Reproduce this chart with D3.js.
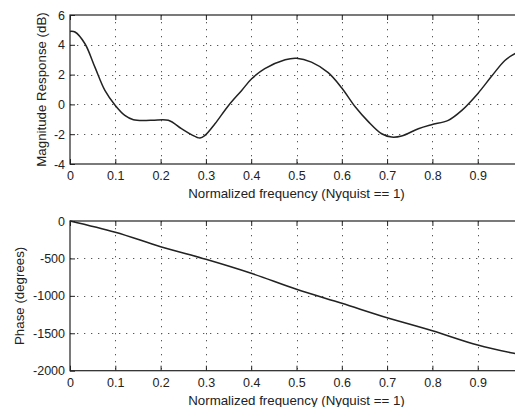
<!DOCTYPE html>
<html><head><meta charset="utf-8">
<script src="https://cdn.jsdelivr.net/npm/d3@7"></script>
<style>
body{margin:0;background:#fff;}
text{font-family:"Liberation Sans",Arial,Helvetica,sans-serif;fill:#222;}
</style>
</head><body>
<svg id="c" width="515" height="407"></svg>
<script>
// ---- data ----
const freqTicks = [0, 0.1, 0.2, 0.3, 0.4, 0.5, 0.6, 0.7, 0.8, 0.9, 1];
const freqTickLabels = ["0", "0.1", "0.2", "0.3", "0.4", "0.5", "0.6", "0.7", "0.8", "0.9", ""];
const magTicks = [-4, -2, 0, 2, 4, 6];
const phaseTicks = [-2000, -1500, -1000, -500, 0];

const magFreq = [0, 0.011, 0.033, 0.055, 0.077, 0.1, 0.121, 0.14, 0.18, 0.217, 0.246, 0.268, 0.287, 0.298, 0.32, 0.35, 0.379, 0.401, 0.43, 0.475, 0.5, 0.533, 0.57, 0.6, 0.63, 0.658, 0.688, 0.71, 0.732, 0.769, 0.798, 0.835, 0.865, 0.9, 0.931, 0.96, 0.982, 1.0];
const magDb = [4.9, 4.86, 4.07, 2.5, 0.94, -0.07, -0.74, -1.03, -1.07, -1.07, -1.63, -2.03, -2.26, -2.08, -1.3, -0.07, 0.94, 1.72, 2.4, 3.0, 3.1, 2.84, 2.13, 1.1, -0.18, -1.14, -1.97, -2.19, -2.12, -1.63, -1.36, -1.07, -0.4, 0.72, 1.9, 2.95, 3.4, 3.6];

const phaseFreq = [0, 0.1, 0.2, 0.3, 0.4, 0.5, 0.6, 0.7, 0.8, 0.9, 0.98, 1.0];
const phaseDeg = [0, -151, -343, -512, -699, -913, -1100, -1292, -1466, -1657, -1768, -1790];

const xLabel = "Normalized frequency (Nyquist == 1)";
const magLabel = "Magnitude Response (dB)";
const phaseLabel = "Phase (degrees)";

// ---- drawing ----
const svg = d3.select("#c");
svg.append("rect").attr("width", 515).attr("height", 407).attr("fill", "#fff");

const x = d3.scaleLinear().domain([0, 1]).range([70, 523]);

function panel(cfg) {
  const y = d3.scaleLinear().domain(cfg.yDomain).range(cfg.yRange);
  const g = svg.append("g");
  const top = cfg.yRange[1], bottom = cfg.yRange[0];

  // grid
  const grid = g.append("g").attr("stroke", "#555").attr("stroke-width", 1)
    .attr("stroke-dasharray", "1.3,5.7").attr("fill", "none");
  grid.selectAll("line.v").data(freqTicks.filter(t => t > 0 && t < 1)).join("line")
    .attr("x1", d => Math.round(x(d)) + 0.5).attr("x2", d => Math.round(x(d)) + 0.5)
    .attr("y1", top).attr("y2", bottom);
  grid.selectAll("line.h").data(cfg.yTicks.filter(t => t > cfg.yDomain[0] && t < cfg.yDomain[1])).join("line")
    .attr("y1", d => Math.round(y(d)) + 0.5).attr("y2", d => Math.round(y(d)) + 0.5)
    .attr("x1", x(0)).attr("x2", x(1));

  // axes
  const ax = g.append("g").attr("transform", `translate(0,${bottom})`)
    .call(d3.axisBottom(x).tickValues(freqTicks).tickFormat((d, i) => freqTickLabels[i])
      .tickSizeInner(-5).tickSizeOuter(0).tickPadding(7));
  const axT = g.append("g").attr("transform", `translate(0,${top})`)
    .call(d3.axisTop(x).tickValues(freqTicks).tickFormat("").tickSizeInner(-5).tickSizeOuter(0));
  const ay = g.append("g").attr("transform", `translate(${x(0)},0)`)
    .call(d3.axisLeft(y).tickValues(cfg.yTicks).tickFormat(d => String(d).replace("\u2212", "-"))
      .tickSizeInner(-5).tickSizeOuter(0).tickPadding(5));
  const ayR = g.append("g").attr("transform", `translate(${x(1)},0)`)
    .call(d3.axisRight(y).tickValues(cfg.yTicks).tickFormat("").tickSizeInner(-5).tickSizeOuter(0));
  [ax, axT, ay, ayR].forEach(a => {
    a.select(".domain").remove();
    a.selectAll("line").attr("stroke", "#222");
    a.selectAll("text").attr("font-size", "12.5px").attr("fill", "#222")
      .attr("font-family", "'Liberation Sans', Arial, sans-serif");
  });

  // frame
  g.append("rect").attr("x", x(0)).attr("y", top).attr("width", x(1) - x(0)).attr("height", bottom - top)
    .attr("fill", "none").attr("stroke", "#222").attr("stroke-width", 1.2);

  // line
  const line = d3.line().x(d => x(d[0])).y(d => y(d[1])).curve(d3.curveCatmullRom.alpha(0.5));
  g.append("path").datum(cfg.xs.map((f, i) => [f, cfg.ys[i]]))
    .attr("d", line).attr("fill", "none").attr("stroke", "#222").attr("stroke-width", cfg.lw);

  // labels
  g.append("text").attr("x", (x(0) + x(1)) / 2).attr("y", bottom + 34)
    .attr("text-anchor", "middle").attr("font-size", "13.3px").text(xLabel);
  g.append("text").attr("transform", `translate(${cfg.ylabelX},${(top + bottom) / 2}) rotate(-90)`)
    .attr("text-anchor", "middle").attr("font-size", "13.3px").text(cfg.ylabel);
}

panel({yDomain: [-4, 6], yRange: [164, 15], yTicks: magTicks, xs: magFreq, ys: magDb,
  ylabel: magLabel, ylabelX: 46, lw: 1.5});
panel({yDomain: [-2000, 0], yRange: [370.7, 221], yTicks: phaseTicks, xs: phaseFreq, ys: phaseDeg,
  ylabel: phaseLabel, ylabelX: 23.5, lw: 1.6});
</script>
</body></html>
